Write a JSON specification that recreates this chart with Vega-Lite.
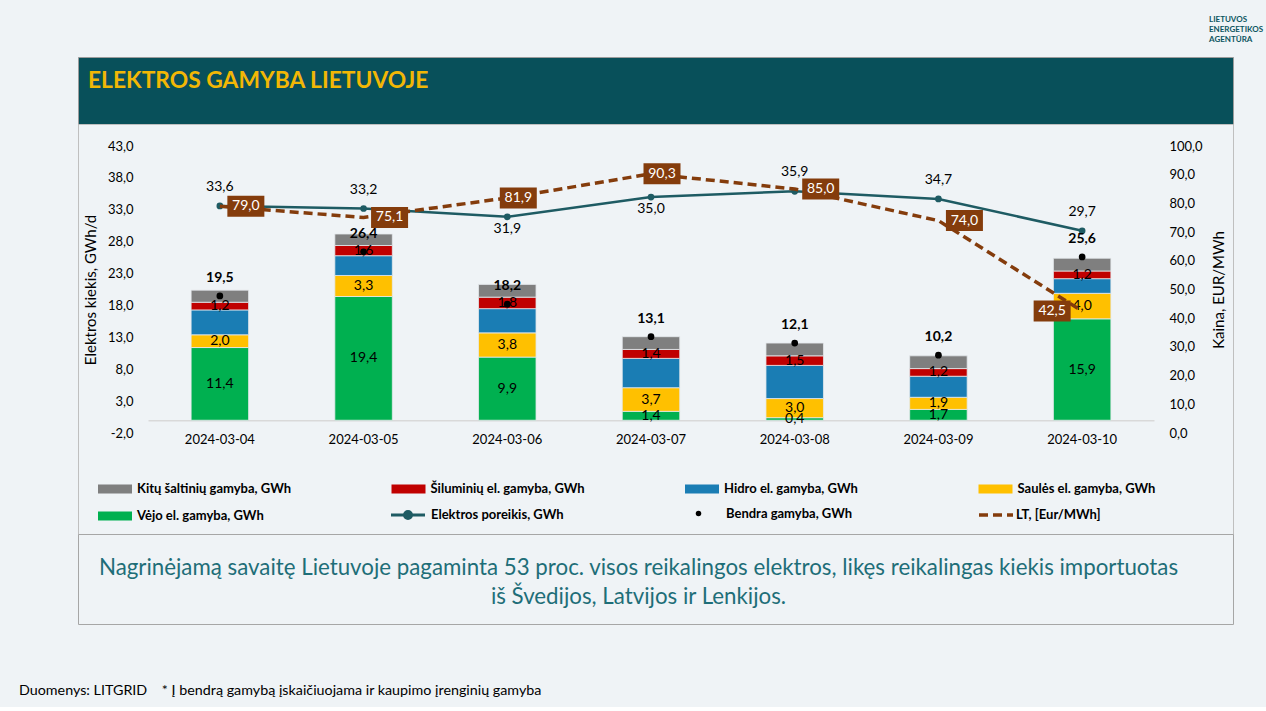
{
  "$schema": "https://vega.github.io/schema/vega-lite/v6.json",
  "background": "#EFF3F6",
  "padding": {"left": 18, "top": 15, "right": 10, "bottom": 8},
  "autosize": {"type": "pad"},
  "config": {
    "locale": {"number": {"decimal": ",", "thousands": " ", "grouping": [3], "currency": ["", ""], "minus": "-"}},
    "font": "Lato",
    "view": {"stroke": null},
    "legend": {"labelFont": "Lato", "labelFontSize": 13, "labelFontWeight": "bold", "labelColor": "#000000", "labelLimit": 400, "padding": 0, "orient": "none"}
  },
  "title": {"text": ["LIETUVOS", "ENERGETIKOS", "AGENTŪRA"], "orient": "top", "anchor": "end", "frame": "group", "align": "left", "dx": -24, "offset": 13, "font": "Lato", "fontSize": 8, "fontWeight": "bold", "color": "#0B5560", "lineHeight": 10},
  "spacing": 0,
  "bounds": "flush",
  "datasets": {
    "d": [
      {"date": "2024-03-04", "series": "Vėjo el. gamyba, GWh", "value": 11.4},
      {"date": "2024-03-04", "series": "Saulės el. gamyba, GWh", "value": 2.0},
      {"date": "2024-03-04", "series": "Hidro el. gamyba, GWh", "value": 3.9},
      {"date": "2024-03-04", "series": "Šiluminių el. gamyba, GWh", "value": 1.2},
      {"date": "2024-03-04", "series": "Kitų šaltinių gamyba,  GWh", "value": 1.9},
      {"date": "2024-03-04", "series": "Bendra gamyba, GWh", "value": 19.5},
      {"date": "2024-03-04", "series": "Elektros poreikis, GWh", "value": 33.6},
      {"date": "2024-03-04", "series": "LT, [Eur/MWh]", "value": 79.0},
      {"date": "2024-03-05", "series": "Vėjo el. gamyba, GWh", "value": 19.4},
      {"date": "2024-03-05", "series": "Saulės el. gamyba, GWh", "value": 3.3},
      {"date": "2024-03-05", "series": "Hidro el. gamyba, GWh", "value": 3.1},
      {"date": "2024-03-05", "series": "Šiluminių el. gamyba, GWh", "value": 1.6},
      {"date": "2024-03-05", "series": "Kitų šaltinių gamyba,  GWh", "value": 1.8},
      {"date": "2024-03-05", "series": "Bendra gamyba, GWh", "value": 26.4},
      {"date": "2024-03-05", "series": "Elektros poreikis, GWh", "value": 33.2},
      {"date": "2024-03-05", "series": "LT, [Eur/MWh]", "value": 75.1},
      {"date": "2024-03-06", "series": "Vėjo el. gamyba, GWh", "value": 9.9},
      {"date": "2024-03-06", "series": "Saulės el. gamyba, GWh", "value": 3.8},
      {"date": "2024-03-06", "series": "Hidro el. gamyba, GWh", "value": 3.8},
      {"date": "2024-03-06", "series": "Šiluminių el. gamyba, GWh", "value": 1.8},
      {"date": "2024-03-06", "series": "Kitų šaltinių gamyba,  GWh", "value": 2.0},
      {"date": "2024-03-06", "series": "Bendra gamyba, GWh", "value": 18.2},
      {"date": "2024-03-06", "series": "Elektros poreikis, GWh", "value": 31.9},
      {"date": "2024-03-06", "series": "LT, [Eur/MWh]", "value": 81.9},
      {"date": "2024-03-07", "series": "Vėjo el. gamyba, GWh", "value": 1.4},
      {"date": "2024-03-07", "series": "Saulės el. gamyba, GWh", "value": 3.7},
      {"date": "2024-03-07", "series": "Hidro el. gamyba, GWh", "value": 4.6},
      {"date": "2024-03-07", "series": "Šiluminių el. gamyba, GWh", "value": 1.4},
      {"date": "2024-03-07", "series": "Kitų šaltinių gamyba,  GWh", "value": 2.0},
      {"date": "2024-03-07", "series": "Bendra gamyba, GWh", "value": 13.1},
      {"date": "2024-03-07", "series": "Elektros poreikis, GWh", "value": 35.0},
      {"date": "2024-03-07", "series": "LT, [Eur/MWh]", "value": 90.3},
      {"date": "2024-03-08", "series": "Vėjo el. gamyba, GWh", "value": 0.4},
      {"date": "2024-03-08", "series": "Saulės el. gamyba, GWh", "value": 3.0},
      {"date": "2024-03-08", "series": "Hidro el. gamyba, GWh", "value": 5.2},
      {"date": "2024-03-08", "series": "Šiluminių el. gamyba, GWh", "value": 1.5},
      {"date": "2024-03-08", "series": "Kitų šaltinių gamyba,  GWh", "value": 2.0},
      {"date": "2024-03-08", "series": "Bendra gamyba, GWh", "value": 12.1},
      {"date": "2024-03-08", "series": "Elektros poreikis, GWh", "value": 35.9},
      {"date": "2024-03-08", "series": "LT, [Eur/MWh]", "value": 85.0},
      {"date": "2024-03-09", "series": "Vėjo el. gamyba, GWh", "value": 1.7},
      {"date": "2024-03-09", "series": "Saulės el. gamyba, GWh", "value": 1.9},
      {"date": "2024-03-09", "series": "Hidro el. gamyba, GWh", "value": 3.3},
      {"date": "2024-03-09", "series": "Šiluminių el. gamyba, GWh", "value": 1.2},
      {"date": "2024-03-09", "series": "Kitų šaltinių gamyba,  GWh", "value": 2.0},
      {"date": "2024-03-09", "series": "Bendra gamyba, GWh", "value": 10.2},
      {"date": "2024-03-09", "series": "Elektros poreikis, GWh", "value": 34.7},
      {"date": "2024-03-09", "series": "LT, [Eur/MWh]", "value": 74.0},
      {"date": "2024-03-10", "series": "Vėjo el. gamyba, GWh", "value": 15.9},
      {"date": "2024-03-10", "series": "Saulės el. gamyba, GWh", "value": 4.0},
      {"date": "2024-03-10", "series": "Hidro el. gamyba, GWh", "value": 2.3},
      {"date": "2024-03-10", "series": "Šiluminių el. gamyba, GWh", "value": 1.2},
      {"date": "2024-03-10", "series": "Kitų šaltinių gamyba,  GWh", "value": 2.0},
      {"date": "2024-03-10", "series": "Bendra gamyba, GWh", "value": 25.6},
      {"date": "2024-03-10", "series": "Elektros poreikis, GWh", "value": 29.7},
      {"date": "2024-03-10", "series": "LT, [Eur/MWh]", "value": 42.5}
    ]
  },
  "vconcat": [
    {
      "width": 1155,
      "height": 67,
      "view": {"fill": "#08505A", "stroke": "#9C9C9C", "strokeWidth": 1},
      "data": {"values": [{"t": ""}]},
      "mark": {"type": "text", "text": ""},
      "title": {"text": "ELEKTROS GAMYBA LIETUVOJE", "orient": "top", "anchor": "start", "frame": "group", "offset": -36, "dx": 10, "font": "Lato", "fontSize": 22.8, "fontWeight": "bold", "color": "#F2B705"}
    },
    {
      "width": 1155,
      "height": 410,
      "view": {"stroke": "#BFBFBF", "strokeWidth": 1},
      "data": {"name": "d"},
      "encoding": {
        "x": {
          "field": "date", "type": "ordinal",
          "scale": {"range": [70, 1076], "paddingInner": 0.6, "paddingOuter": 0.3},
          "axis": {"title": null, "orient": "bottom", "offset": -113.76, "domainColor": "#D9D9D9", "domainWidth": 1.5, "ticks": false, "labelAngle": 0, "labelPadding": 13, "labelFont": "Lato", "labelFontSize": 13, "labelColor": "#000000"}
        }
      },
      "layer": [
        {
          "layer": [
            {
              "transform": [
                {"filter": {"field": "series", "oneOf": ["Vėjo el. gamyba, GWh", "Saulės el. gamyba, GWh", "Hidro el. gamyba, GWh", "Šiluminių el. gamyba, GWh", "Kitų šaltinių gamyba,  GWh"]}},
                {"calculate": "indexof(['Vėjo el. gamyba, GWh', 'Saulės el. gamyba, GWh', 'Hidro el. gamyba, GWh', 'Šiluminių el. gamyba, GWh', 'Kitų šaltinių gamyba,  GWh'], datum.series)", "as": "ord"},
                {"stack": "value", "groupby": ["date"], "sort": [{"field": "ord", "order": "ascending"}], "as": ["v0", "v1"]},
                {"calculate": "(datum.v0 + datum.v1) / 2", "as": "vm"}
              ],
              "layer": [
                {
                  "mark": {"type": "bar", "stroke": "#E4E8EC", "strokeWidth": 0.8},
                  "encoding": {
                    "y": {
                      "field": "v0", "type": "quantitative",
                      "scale": {"domain": [-2, 43], "range": [309, 22], "nice": false, "zero": false},
                      "axis": {"title": "Elektros kiekis, GWh/d", "orient": "left", "offset": -70, "values": [-2, 3, 8, 13, 18, 23, 28, 33, 38, 43], "format": ".1f", "domain": false, "ticks": false, "grid": false, "labelPadding": 15, "labelFont": "Lato", "labelFontSize": 13, "labelColor": "#000000", "titleFont": "Lato", "titleFontSize": 15, "titleFontWeight": "normal", "titleColor": "#000000", "titlePadding": 9}
                    },
                    "y2": {"field": "v1"},
                    "color": {
                      "field": "series", "type": "nominal",
                      "scale": {
                        "domain": ["Kitų šaltinių gamyba,  GWh", "Šiluminių el. gamyba, GWh", "Hidro el. gamyba, GWh", "Saulės el. gamyba, GWh", "Vėjo el. gamyba, GWh"],
                        "range": ["#7F7F7F", "#C00000", "#1A7DB4", "#FFC000", "#00B050"]
                      },
                      "legend": {
                        "orient": "none", "legendX": 27, "legendY": 422, "direction": "horizontal", "columns": 4, "gridAlign": "all",
                        "columnPadding": 96.5, "rowPadding": 10, "title": null,
                        "symbolType": "M-1.7,-0.45H1.7V0.45H-1.7Z", "symbolSize": 400, "symbolStrokeWidth": 0, "labelOffset": 12
                      }
                    }
                  }
                },
                {
                  "transform": [{"filter": {"field": "series", "oneOf": ["Vėjo el. gamyba, GWh", "Saulės el. gamyba, GWh", "Šiluminių el. gamyba, GWh"]}}],
                  "mark": {"type": "text", "font": "Lato", "fontSize": 14, "color": "#000000", "baseline": "middle"},
                  "encoding": {
                    "y": {"field": "vm", "type": "quantitative"},
                    "text": {"field": "value", "type": "quantitative", "format": ".1f"}
                  }
                }
              ]
            },
            {
              "transform": [{"filter": {"field": "series", "equal": "Elektros poreikis, GWh"}}],
              "layer": [
                {
                  "mark": {"type": "line", "strokeWidth": 2.5},
                  "encoding": {
                    "y": {"field": "value", "type": "quantitative"},
                    "stroke": {
                      "field": "series", "type": "nominal",
                      "scale": {"domain": ["Elektros poreikis, GWh"], "range": ["#1E5B63"]},
                      "legend": {
                        "orient": "none", "legendX": 318.5, "legendY": 446.5, "title": null,
                        "symbolType": "M-1.7,0H1.7M0.35,0A0.35,0.35 0 1,1 -0.35,0A0.35,0.35 0 1,1 0.35,0",
                        "symbolSize": 400, "symbolStrokeWidth": 3, "symbolFillColor": "#1E5B63", "symbolStrokeColor": "#1E5B63", "labelOffset": 11.5
                      }
                    }
                  }
                },
                {
                  "mark": {"type": "point", "filled": true, "size": 45, "opacity": 1, "color": "#1E5B63"},
                  "encoding": {"y": {"field": "value", "type": "quantitative"}}
                },
                {
                  "transform": [{"filter": {"not": {"field": "date", "oneOf": ["2024-03-06", "2024-03-07"]}}}],
                  "mark": {"type": "text", "font": "Lato", "fontSize": 14, "dy": -19, "color": "#000000", "baseline": "middle"},
                  "encoding": {
                    "y": {"field": "value", "type": "quantitative"},
                    "text": {"field": "value", "type": "quantitative", "format": ".1f"}
                  }
                },
                {
                  "transform": [{"filter": {"field": "date", "oneOf": ["2024-03-06", "2024-03-07"]}}],
                  "mark": {"type": "text", "font": "Lato", "fontSize": 14, "dy": 12, "color": "#000000", "baseline": "middle"},
                  "encoding": {
                    "y": {"field": "value", "type": "quantitative"},
                    "text": {"field": "value", "type": "quantitative", "format": ".1f"}
                  }
                }
              ]
            },
            {
              "transform": [{"filter": {"field": "series", "equal": "Bendra gamyba, GWh"}}],
              "layer": [
                {
                  "mark": {"type": "point", "filled": true, "size": 45, "opacity": 1, "color": "#000000"},
                  "encoding": {
                    "y": {"field": "value", "type": "quantitative"},
                    "shape": {
                      "field": "series", "type": "nominal",
                      "scale": {"domain": ["Bendra gamyba, GWh"], "range": ["circle"]},
                      "legend": {
                        "orient": "none", "legendX": 614, "legendY": 450, "title": null,
                        "symbolSize": 30, "symbolFillColor": "#000000", "symbolStrokeWidth": 0, "labelOffset": 21
                      }
                    }
                  }
                },
                {
                  "mark": {"type": "text", "font": "Lato", "fontSize": 14, "fontWeight": "bold", "dy": -18, "color": "#000000", "baseline": "middle"},
                  "encoding": {
                    "y": {"field": "value", "type": "quantitative"},
                    "text": {"field": "value", "type": "quantitative", "format": ".1f"}
                  }
                }
              ]
            }
          ]
        },
        {
          "transform": [{"filter": {"field": "series", "equal": "LT, [Eur/MWh]"}}],
          "layer": [
            {
              "mark": {"type": "line", "strokeWidth": 3.5, "color": "#843C0C"},
              "encoding": {
                "y": {
                  "field": "value", "type": "quantitative",
                  "scale": {"domain": [0, 100], "range": [309, 22], "nice": false, "zero": false},
                  "axis": {"title": "Kaina, EUR/MWh", "orient": "right", "offset": -79, "values": [0, 10, 20, 30, 40, 50, 60, 70, 80, 90, 100], "format": ".1f", "domain": false, "ticks": false, "grid": false, "labelPadding": 15, "labelFont": "Lato", "labelFontSize": 13, "labelColor": "#000000", "titleFont": "Lato", "titleFontSize": 15, "titleFontWeight": "normal", "titleColor": "#000000", "titleAngle": 270, "titlePadding": 24}
                },
                "strokeDash": {
                  "field": "series", "type": "nominal",
                  "scale": {"domain": ["LT, [Eur/MWh]"], "range": [[9, 5]]},
                  "legend": {
                    "orient": "none", "legendX": 906, "legendY": 446, "title": null,
                    "symbolType": "M-1.7,0H1.7", "symbolSize": 400, "symbolStrokeWidth": 3.5, "symbolStrokeColor": "#843C0C", "labelOffset": 8
                  }
                }
              }
            },
            {
              "transform": [{"filter": {"field": "date", "oneOf": ["2024-03-04", "2024-03-05", "2024-03-08", "2024-03-09"]}}],
              "layer": [
                {
                  "mark": {"type": "point", "shape": "M0.75,-1.05H4.45V1.05H0.75Z", "size": 400, "filled": true, "color": "#843C0C", "opacity": 1, "strokeWidth": 0},
                  "encoding": {"y": {"field": "value", "type": "quantitative"}}
                },
                {
                  "mark": {"type": "text", "font": "Lato", "fontSize": 14, "dx": 26, "color": "#FFFFFF", "baseline": "middle"},
                  "encoding": {"y": {"field": "value", "type": "quantitative"}, "text": {"field": "value", "type": "quantitative", "format": ".1f"}}
                }
              ]
            },
            {
              "transform": [{"filter": {"field": "date", "oneOf": ["2024-03-06", "2024-03-07"]}}],
              "layer": [
                {
                  "mark": {"type": "point", "shape": "M-0.75,-1.05H2.95V1.05H-0.75Z", "size": 400, "filled": true, "color": "#843C0C", "opacity": 1, "strokeWidth": 0},
                  "encoding": {"y": {"field": "value", "type": "quantitative"}}
                },
                {
                  "mark": {"type": "text", "font": "Lato", "fontSize": 14, "dx": 11, "color": "#FFFFFF", "baseline": "middle"},
                  "encoding": {"y": {"field": "value", "type": "quantitative"}, "text": {"field": "value", "type": "quantitative", "format": ".1f"}}
                }
              ]
            },
            {
              "transform": [{"filter": {"field": "date", "equal": "2024-03-10"}}],
              "layer": [
                {
                  "mark": {"type": "point", "shape": "M-4.85,-1.05H-1.15V1.05H-4.85Z", "size": 400, "filled": true, "color": "#843C0C", "opacity": 1, "strokeWidth": 0},
                  "encoding": {"y": {"field": "value", "type": "quantitative"}}
                },
                {
                  "mark": {"type": "text", "font": "Lato", "fontSize": 14, "dx": -30, "color": "#FFFFFF", "baseline": "middle"},
                  "encoding": {"y": {"field": "value", "type": "quantitative"}, "text": {"field": "value", "type": "quantitative", "format": ".1f"}}
                }
              ]
            }
          ]
        }
      ],
      "resolve": {"scale": {"y": "independent"}}
    },
    {
      "width": 1155,
      "height": 90,
      "view": {"stroke": "#A6A6A6", "strokeWidth": 1},
      "data": {"values": [{"t": ["Nagrinėjamą savaitę Lietuvoje pagaminta 53 proc. visos reikalingos elektros, likęs reikalingas kiekis importuotas", "iš Švedijos, Latvijos ir Lenkijos."]}]},
      "mark": {"type": "text", "font": "Lato", "fontSize": 22.3, "color": "#1E6E78", "lineHeight": 29, "align": "center", "baseline": "middle", "dx": -17, "dy": -11},
      "encoding": {"text": {"field": "t"}},
      "title": {"text": "Duomenys: LITGRID\u00a0\u00a0\u00a0\u00a0* Į bendrą gamybą įskaičiuojama ir kaupimo įrenginių gamyba", "orient": "bottom", "anchor": "start", "frame": "group", "dx": -59, "offset": 60, "font": "Lato", "fontSize": 14.3, "fontWeight": "normal", "color": "#000000"}
    }
  ]
}
